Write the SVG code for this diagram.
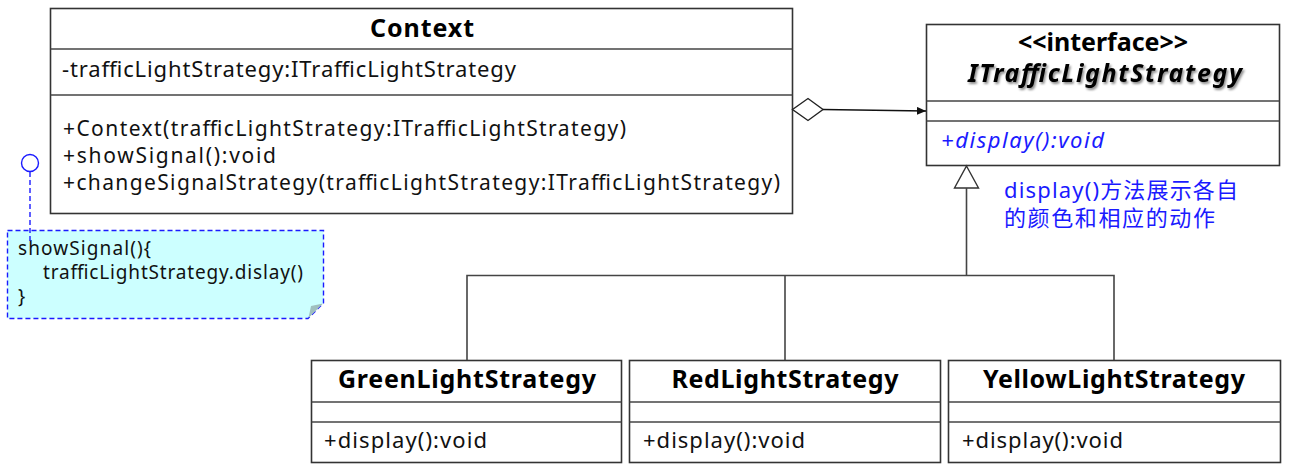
<svg xmlns="http://www.w3.org/2000/svg" width="1297" height="470" viewBox="0 0 1297 470">
<defs>
<style>
.box{fill:#fff;stroke:#333;stroke-width:1.6}
.div{stroke:#444;stroke-width:1.6}
.t{font-family:"Noto Sans","Open Sans","Liberation Sans",sans-serif;font-size:22px;fill:#111}
.op{font-size:21px}
.b{font-family:"Noto Sans","Open Sans","Liberation Sans",sans-serif;font-size:25px;font-weight:bold;fill:#000;text-anchor:middle}
.blue{font-family:"Noto Sans","Noto Sans CJK SC",sans-serif;font-size:22px;fill:#1a1aff}
.note{font-family:"Noto Sans","Open Sans","Liberation Sans",sans-serif;font-size:19px;fill:#111}
.line{fill:none;stroke:#444;stroke-width:1.6}
</style>
<filter id="sh" x="-10%" y="-30%" width="120%" height="160%">
<feDropShadow dx="1.5" dy="2" stdDeviation="1.2" flood-color="#000" flood-opacity="0.45"/>
</filter>
<marker id="arr" markerWidth="10" markerHeight="10" refX="9" refY="4" orient="auto" markerUnits="userSpaceOnUse">
<path d="M0,0 L9,4 L0,8 Z" fill="#111"/>
</marker>
</defs>

<g id="context">
<rect class="box" x="50.5" y="8.5" width="742" height="205"/>
<line class="div" x1="50.5" y1="49" x2="792.5" y2="49"/>
<line class="div" x1="50.5" y1="95" x2="792.5" y2="95"/>
<text class="b" x="422" y="37" font-size="26" textLength="104">Context</text>
<text class="t" x="62" y="77" textLength="454">-trafficLightStrategy:ITrafficLightStrategy</text>
<text class="t op" x="63" y="136" textLength="563">+Context(trafficLightStrategy:ITrafficLightStrategy)</text>
<text class="t op" x="63" y="163" textLength="213">+showSignal():void</text>
<text class="t op" x="63" y="190" textLength="717">+changeSignalStrategy(trafficLightStrategy:ITrafficLightStrategy)</text>
</g>

<g id="interface">
<rect class="box" x="926.5" y="24.5" width="353" height="141"/>
<line class="div" x1="926.5" y1="101" x2="1279.5" y2="101"/>
<line class="div" x1="926.5" y1="121" x2="1279.5" y2="121"/>
<text class="b" x="1103" y="51" font-size="20" textLength="170">&lt;&lt;interface&gt;&gt;</text>
<text class="b" x="1105" y="82" font-size="24" font-style="italic" filter="url(#sh)" textLength="274">ITrafficLightStrategy</text>
<text class="t" x="941" y="148" font-style="italic" style="fill:#1a1aff" textLength="163">+display():void</text>
</g>

<g id="green">
<rect class="box" x="311.5" y="360.5" width="310" height="102"/>
<line class="div" x1="311.5" y1="402" x2="621.5" y2="402"/>
<line class="div" x1="311.5" y1="422" x2="621.5" y2="422"/>
<text class="b" x="467" y="388" textLength="258">GreenLightStrategy</text>
<text class="t" x="324" y="448" textLength="163">+display():void</text>
</g>

<g id="red">
<rect class="box" x="629.5" y="360.5" width="311" height="102"/>
<line class="div" x1="629.5" y1="402" x2="940.5" y2="402"/>
<line class="div" x1="629.5" y1="422" x2="940.5" y2="422"/>
<text class="b" x="785" y="388" textLength="227">RedLightStrategy</text>
<text class="t" x="643" y="448" textLength="162">+display():void</text>
</g>

<g id="yellow">
<rect class="box" x="948.5" y="360.5" width="332" height="102"/>
<line class="div" x1="948.5" y1="402" x2="1280.5" y2="402"/>
<line class="div" x1="948.5" y1="422" x2="1280.5" y2="422"/>
<text class="b" x="1114" y="388" textLength="262">YellowLightStrategy</text>
<text class="t" x="962" y="448" textLength="161">+display():void</text>
</g>

<g id="note">
<path d="M7.5,230.5 L323.5,230.5 L323.5,303 L308,318.5 L7.5,318.5 Z" fill="#ccffff" stroke="#1a1aff" stroke-width="1.4" stroke-dasharray="5,3"/>
<path d="M323,303.5 L308.5,318 L311,306 Z" fill="#9fbfbf"/>
<text class="note" x="18" y="255" textLength="133">showSignal(){</text>
<text class="note" x="43" y="279" textLength="260">trafficLightStrategy.dislay()</text>
<text class="note" x="18" y="303">}</text>
</g>

<g id="comment">
<text class="blue" x="1004" y="198" textLength="234">display()方法展示各自</text>
<text class="blue" x="1004" y="226" textLength="211">的颜色和相应的动作</text>
</g>

<g id="connectors">
<path d="M792.5,109.5 L808,98.5 L823,109.5 L808,120.5 Z" fill="#fff" stroke="#222" stroke-width="1.4"/>
<line x1="823" y1="109.5" x2="926" y2="111" stroke="#111" stroke-width="1.4" marker-end="url(#arr)"/>
<path d="M966.5,166 L978.5,188 L954.5,188 Z" fill="#fff" stroke="#333" stroke-width="1.4"/>
<line class="line" x1="966.5" y1="188" x2="966.5" y2="275.5"/>
<polyline class="line" points="467,360 467,275.5 1114,275.5 1114,360"/>
<line class="line" x1="785" y1="275.5" x2="785" y2="360"/>
<circle cx="30" cy="163" r="8.5" fill="#fff" stroke="#1a1aff" stroke-width="1.4"/>
<line x1="30" y1="172" x2="30" y2="241" stroke="#1a1aff" stroke-width="1.4" stroke-dasharray="5,3"/>
</g>
</svg>
